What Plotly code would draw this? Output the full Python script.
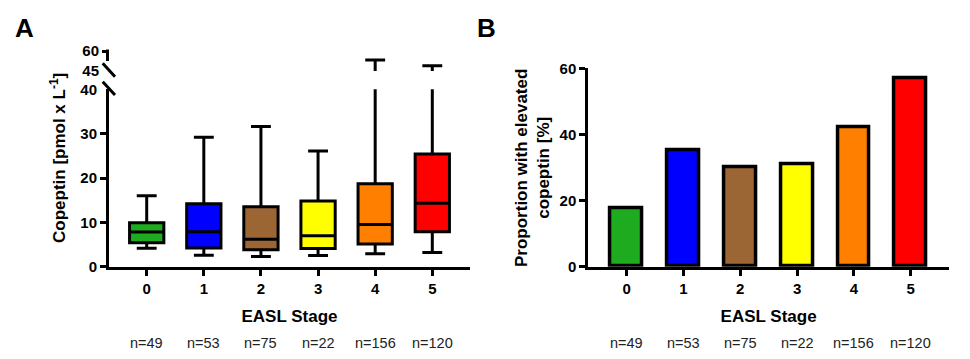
import plotly.graph_objects as go

# ---------------- data ----------------
stages = [0, 1, 2, 3, 4, 5]
stage_labels = ["0", "1", "2", "3", "4", "5"]
n_labels = ["n=49", "n=53", "n=75", "n=22", "n=156", "n=120"]
colors = ["#1fab1f", "#0000ff", "#9c6634", "#ffff00", "#ff8000", "#ff0000"]

q1 = [5.4, 4.2, 3.8, 4.1, 5.1, 7.9]
median = [7.8, 7.9, 6.2, 7.0, 9.5, 14.3]
q3 = [9.9, 14.2, 13.5, 14.8, 18.7, 25.4]
whisker_low = [4.15, 2.6, 2.3, 2.5, 2.9, 3.2]
whisker_high = [16.0, 29.2, 31.6, 26.1, 53.3, 48.9]

proportion = [17.8, 35.1, 30.0, 31.1, 42.3, 56.9]

# page body has an 8px margin, so the figure is drawn 8px in from the window edge
OFF = 8
W, H = 970 - OFF, 359 - OFF
FONT = "Liberation Sans, Arial, sans-serif"


def px(x):
    return (x - OFF) / W


def py(y):
    return 1 - (y - OFF) / H


fig = go.Figure()

# ---------------- panel A: box plots on broken axis ----------------
for yax in ["y", "y2"]:
    for i, s in enumerate(stages):
        fig.add_trace(go.Box(
            x=[s], q1=[q1[i]], median=[median[i]], q3=[q3[i]],
            lowerfence=[whisker_low[i]], upperfence=[whisker_high[i]],
            boxpoints=False, width=0.6, whiskerwidth=0.58,
            fillcolor=colors[i], line=dict(color="black", width=3),
            xaxis="x", yaxis=yax, showlegend=False, hoverinfo="skip",
        ))

# ---------------- panel B: bars ----------------
fig.add_trace(go.Bar(
    x=stages, y=proportion, width=0.56,
    marker=dict(color=colors, line=dict(color="black", width=3.5)),
    xaxis="x2", yaxis="y3", showlegend=False, hoverinfo="skip",
))

tickfont = dict(family=FONT, size=15, color="black", weight="bold")
axis_common = dict(linecolor="black", linewidth=3, automargin=False,
                   showgrid=False, zeroline=False, tickfont=tickfont,
                   fixedrange=True)

fig.update_layout(
    template="none",
    width=W, height=H, margin=dict(l=0, r=0, t=0, b=0, pad=0), autosize=False,
    paper_bgcolor="white", plot_bgcolor="white",
    boxmode="overlay", bargap=0,
    font=dict(family=FONT, color="black"),
    xaxis=dict(**axis_common, showline=True, domain=[px(109), px(470)], range=[-0.66, 5.66],
               anchor="y", tickmode="array", tickvals=stages, ticktext=stage_labels,
               ticks="outside", ticklen=6, tickwidth=3, tickcolor="black",
               title=dict(text="EASL Stage", standoff=15,
                          font=dict(family=FONT, size=17, weight="bold"))),
    yaxis=dict(**axis_common, showline=True, domain=[py(266.7), py(89.3)], range=[0, 40],
               anchor="x", tickmode="array", tickvals=[0, 10, 20, 30, 40],
               ticks="outside", ticklen=6, tickwidth=3, tickcolor="rgba(0,0,0,0)",
               minor=dict(tickmode="array", tickvals=[0, 10, 20, 30],
                          ticks="outside", ticklen=6, tickwidth=3, tickcolor="black")),
    yaxis2=dict(**axis_common, showline=False,
                domain=[py(71), py(51)], range=[45, 60],
                anchor="x", tickmode="array", tickvals=[45, 60],
                ticks="outside", ticklen=6, tickwidth=3, tickcolor="rgba(0,0,0,0)",
                minor=dict(tickmode="array", tickvals=[60],
                           ticks="outside", ticklen=6, tickwidth=3, tickcolor="black")),
    xaxis2=dict(**axis_common, showline=True, domain=[px(588.3), px(949)], range=[-0.675, 5.675],
                anchor="y3", tickmode="array", tickvals=stages, ticktext=stage_labels,
                ticks="outside", ticklen=6, tickwidth=3, tickcolor="black",
                title=dict(text="EASL Stage", standoff=15,
                           font=dict(family=FONT, size=17, weight="bold"))),
    yaxis3=dict(**axis_common, showline=True, domain=[py(266.7), py(68.3)], range=[0, 60],
                anchor="x2", tickmode="array", tickvals=[0, 20, 40, 60],
                ticks="outside", ticklen=6, tickwidth=3, tickcolor="black"),
)

# upper axis segment line and break marks (decoration)
lx = px(109) - 1.5 / W
shapes = [
    dict(type="line", xref="paper", yref="paper", x0=lx, x1=lx, y0=py(49.5), y1=py(61),
         line=dict(color="black", width=3)),
    dict(type="line", xref="paper", yref="paper", x0=px(102.7), x1=px(115), y0=py(63.3), y1=py(76.7),
         line=dict(color="black", width=3)),
    dict(type="line", xref="paper", yref="paper", x0=px(102.7), x1=px(115), y0=py(81.7), y1=py(95),
         line=dict(color="black", width=3)),
]
fig.update_layout(shapes=shapes)

annotations = [
    dict(text="A", x=px(24), y=py(28), xref="paper", yref="paper", showarrow=False,
         xanchor="center", yanchor="middle", font=dict(family=FONT, size=26, weight="bold")),
    dict(text="B", x=px(486), y=py(28), xref="paper", yref="paper", showarrow=False,
         xanchor="center", yanchor="middle", font=dict(family=FONT, size=26, weight="bold")),
    dict(text="Copeptin [pmol x L<sup>-1</sup>]", x=px(58), y=py(158), xref="paper", yref="paper",
         showarrow=False, textangle=-90, xanchor="center", yanchor="middle",
         font=dict(family=FONT, size=17, weight="bold")),
    dict(text="Proportion with elevated<br>copeptin [%]", x=px(532), y=py(168),
         xref="paper", yref="paper", showarrow=False, textangle=-90,
         xanchor="center", yanchor="middle",
         font=dict(family=FONT, size=17, weight="bold")),
]
for i, s in enumerate(stages):
    for xr in ["x", "x2"]:
        annotations.append(dict(text=n_labels[i], x=s, y=py(343), xref=xr, yref="paper",
                                showarrow=False, xanchor="center", yanchor="middle",
                                font=dict(family=FONT, size=14.5, color="#222")))
fig.update_layout(annotations=annotations)

fig.write_html("out.html")
